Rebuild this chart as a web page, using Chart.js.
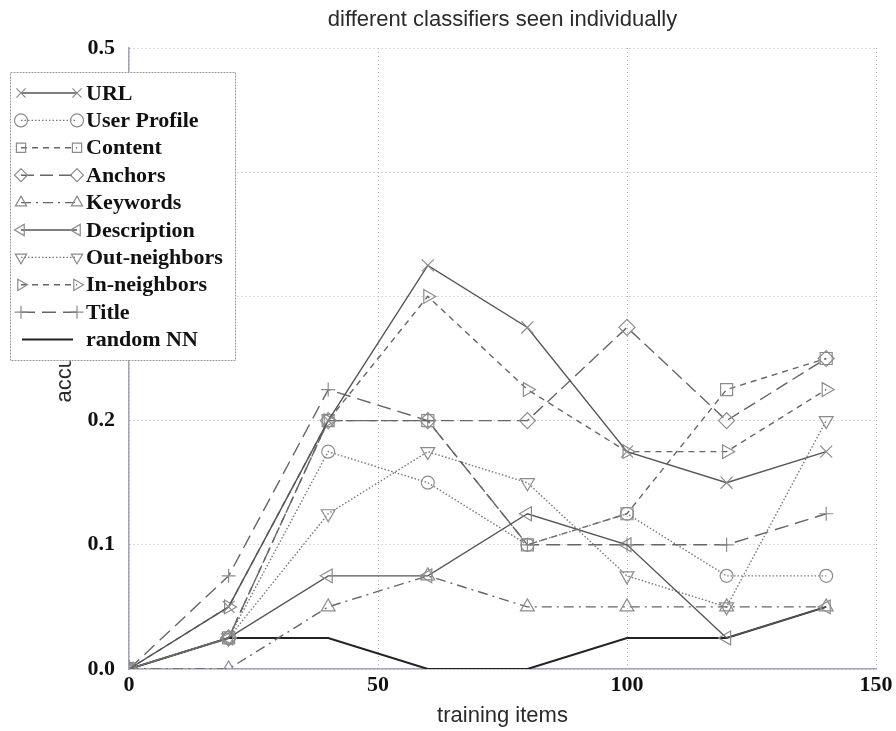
<!DOCTYPE html>
<html>
<head>
<meta charset="utf-8">
<script src="https://cdn.jsdelivr.net/npm/chart.js@4.4.0/dist/chart.umd.min.js"></script>
<style>
    html, body { margin: 0; padding: 0; background: #fff; }
</style>
</head>
<body>
<canvas id="graficoClassificadores" width="896" height="731"></canvas>
<script>
// Dados
var itensTreino = [0, 20, 40, 60, 80, 100, 120, 140];
var ticksX = [0, 50, 100, 150];
var ticksY = [0, 0.1, 0.2, 0.3, 0.4, 0.5];

var acertoURL = [0, 0.05, 0.2, 0.325, 0.275, 0.175, 0.15, 0.175];
var acertoPerfil = [0, 0.025, 0.175, 0.15, 0.1, 0.125, 0.075, 0.075];
var acertoConteudo = [0, 0.025, 0.2, 0.2, 0.1, 0.125, 0.225, 0.25];
var acertoAncoras = [0, 0.025, 0.2, 0.2, 0.2, 0.275, 0.2, 0.25];
var acertoPalavras = [0, 0, 0.05, 0.075, 0.05, 0.05, 0.05, 0.05];
var acertoDescricao = [0, 0.025, 0.075, 0.075, 0.125, 0.1, 0.025, 0.05];
var acertoVizSaida = [0, 0.025, 0.125, 0.175, 0.15, 0.075, 0.05, 0.2];
var acertoVizEntrada = [0, 0.05, 0.2, 0.3, 0.225, 0.175, 0.175, 0.225];
var acertoTitulo = [0, 0.075, 0.225, 0.2, 0.1, 0.1, 0.1, 0.125];
var acertoAleatorio = [0, 0.025, 0.025, 0, 0, 0.025, 0.025, 0.05];

var corMarcador = '#8c8c8c';

// Monta os pontos {x, y} a partir dos arrays
function pontos(valores) {
    return itensTreino.map(function (x, i) { return { x: x, y: valores[i] }; });
}

function serie(rotulo, valores, cor, tracejado, estilo, rotacao, raio, largura) {
    return {
        label: rotulo,
        data: pontos(valores),
        borderColor: cor,
        borderWidth: largura || 1.4,
        borderDash: tracejado,
        pointStyle: estilo || false,
        pointRotation: rotacao || 0,
        pointRadius: estilo ? raio : 0,
        pointBorderColor: corMarcador,
        pointBackgroundColor: 'rgba(255,255,255,0)',
        pointBorderWidth: 1.2,
        tension: 0,
        fill: false
    };
}

var conjuntos = [
    serie('URL', acertoURL, '#555', [], 'crossRot', 0, 8.5),
    serie('User Profile', acertoPerfil, '#777', [1.5, 2], 'circle', 0, 6.5),
    serie('Content', acertoConteudo, '#666', [6, 5], 'rect', 0, 8.5),
    serie('Anchors', acertoAncoras, '#666', [13, 6], 'rectRot', 0, 8),
    serie('Keywords', acertoPalavras, '#666', [10, 5, 2, 5], 'triangle', 0, 8),
    serie('Description', acertoDescricao, '#555', [], 'triangle', 270, 8),
    serie('Out-neighbors', acertoVizSaida, '#777', [1.5, 2], 'triangle', 180, 8),
    serie('In-neighbors', acertoVizEntrada, '#666', [6, 5], 'triangle', 90, 8),
    serie('Title', acertoTitulo, '#666', [14, 7], 'cross', 0, 7),
    serie('random NN', acertoAleatorio, '#222', [], null, 0, 0, 2)
];

// Desenha um marcador vazado (para a legenda)
function desenharMarcador(ctx, estilo, rotacao, x, y, r) {
    ctx.save();
    ctx.translate(x, y);
    ctx.rotate(rotacao * Math.PI / 180);
    ctx.setLineDash([]);
    ctx.strokeStyle = corMarcador;
    ctx.lineWidth = 1.2;
    ctx.beginPath();
    if (estilo === 'circle') {
        ctx.arc(0, 0, r, 0, Math.PI * 2);
    } else if (estilo === 'rect') {
        var s = r * 0.7071;
        ctx.rect(-s, -s, 2 * s, 2 * s);
    } else if (estilo === 'rectRot') {
        ctx.moveTo(0, -r); ctx.lineTo(r, 0); ctx.lineTo(0, r); ctx.lineTo(-r, 0); ctx.closePath();
    } else if (estilo === 'triangle') {
        ctx.moveTo(0, -r);
        ctx.lineTo(r * 0.866, r * 0.5);
        ctx.lineTo(-r * 0.866, r * 0.5);
        ctx.closePath();
    } else if (estilo === 'cross') {
        ctx.moveTo(0, -r); ctx.lineTo(0, r); ctx.moveTo(-r, 0); ctx.lineTo(r, 0);
    } else if (estilo === 'crossRot') {
        var c = r * 0.7071;
        ctx.moveTo(-c, -c); ctx.lineTo(c, c); ctx.moveTo(-c, c); ctx.lineTo(c, -c);
    }
    ctx.stroke();
    ctx.restore();
}

// Legenda em caixa sobre o gráfico, como no original
var pluginLegenda = {
    id: 'legendaCaixa',
    afterDraw: function (chart) {
        var ctx = chart.ctx;
        ctx.save();
        ctx.fillStyle = '#fff';
        ctx.fillRect(10, 72, 225, 288);
        ctx.strokeStyle = '#9a9a9a';
        ctx.lineWidth = 1;
        ctx.setLineDash([2, 1]);
        ctx.strokeRect(10.5, 72.5, 225, 288);

        chart.data.datasets.forEach(function (ds, i) {
            var y = 93 + i * 27.4;
            ctx.setLineDash(ds.borderDash || []);
            ctx.strokeStyle = ds.borderColor;
            ctx.lineWidth = ds.borderWidth;
            ctx.beginPath();
            if (ds.pointRadius > 0) {
                ctx.moveTo(21, y); ctx.lineTo(77, y);
            } else {
                ctx.moveTo(22, y); ctx.lineTo(73, y);
            }
            ctx.stroke();
            if (ds.pointRadius > 0) {
                desenharMarcador(ctx, ds.pointStyle, ds.pointRotation, 21, y, 6.5);
                desenharMarcador(ctx, ds.pointStyle, ds.pointRotation, 77, y, 6.5);
            }
            ctx.fillStyle = '#111';
            ctx.font = 'bold 22px "Liberation Serif"';
            ctx.textBaseline = 'middle';
            ctx.fillText(ds.label, 86, y + 1);
        });
        ctx.restore();
    }
};

var ctx = document.getElementById('graficoClassificadores').getContext('2d');

window.myChart = new Chart(ctx, {
    type: 'line',
    data: { datasets: conjuntos },
    options: {
        responsive: false,
        animation: false,
        devicePixelRatio: 1,
        layout: { padding: { left: 0, right: 20, top: 0, bottom: 0 } },
        elements: { line: { borderCapStyle: 'butt' } },
        plugins: {
            legend: { display: false },
            tooltip: { enabled: false }
        },
        scales: {
            // eixo de cima só para o título, centrado sobre a área do gráfico
            xTopo: {
                type: 'linear',
                position: 'top',
                min: 0,
                max: 150,
                afterFit: function (escala) { escala.height = 48; },
                grid: { display: false, drawTicks: false },
                border: { display: false },
                ticks: { display: false },
                title: {
                    display: true,
                    text: 'different classifiers seen individually',
                    color: '#2a2a2a',
                    font: { family: '"Liberation Sans"', size: 22, weight: 'normal' },
                    padding: { top: 6.8, bottom: 0 }
                }
            },
            x: {
                type: 'linear',
                min: 0,
                max: 150,
                afterBuildTicks: function (escala) {
                    escala.ticks = ticksX.map(function (v) { return { value: v }; });
                },
                afterFit: function (escala) { escala.height = 62; },
                grid: { color: '#b4b4b4', drawTicks: false, lineWidth: 1 },
                border: { color: '#a3a3b8', width: 1.5, dash: [1, 3] },
                ticks: {
                    color: '#111',
                    padding: 3,
                    font: { family: '"Liberation Serif"', size: 22, weight: 'bold' }
                },
                title: {
                    display: true,
                    text: 'training items',
                    color: '#2a2a2a',
                    font: { family: '"Liberation Sans"', size: 22 },
                    padding: { top: 0, bottom: 2 }
                }
            },
            y: {
                type: 'linear',
                min: 0,
                max: 0.5,
                afterBuildTicks: function (escala) {
                    escala.ticks = ticksY.map(function (v) { return { value: v }; });
                },
                afterFit: function (escala) { escala.width = 129; },
                grid: { color: '#b4b4b4', drawTicks: false, lineWidth: 1 },
                border: { color: '#a3a3b8', width: 1.5, dash: [1, 3] },
                ticks: {
                    color: '#111',
                    padding: 14,
                    font: { family: '"Liberation Serif"', size: 22, weight: 'bold' },
                    callback: function (v) { return v.toFixed(1); }
                },
                title: {
                    display: true,
                    text: 'accuracy',
                    color: '#2a2a2a',
                    font: { family: '"Liberation Sans"', size: 22 },
                    padding: { top: 52, bottom: 0 }
                }
            }
        }
    },
    plugins: [pluginLegenda]
});
</script>
</body>
</html>
